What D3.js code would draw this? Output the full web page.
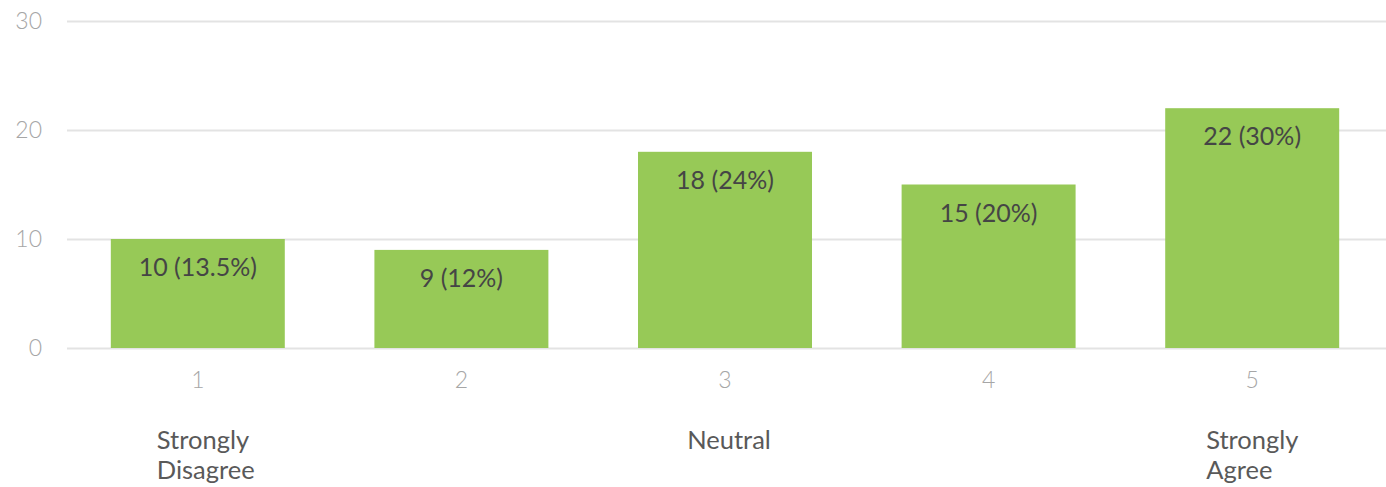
<!DOCTYPE html>
<html>
<head>
<meta charset="utf-8">
<script src="https://cdn.jsdelivr.net/npm/d3@7"></script>
<style>
  html, body { margin: 0; padding: 0; background: #ffffff; }
  svg { display: block; font-family: Lato, "Open Sans", sans-serif; }
</style>
</head>
<body>
<svg id="chart" width="1386" height="487"></svg>
<script>
// Survey responses on a 1–5 agreement scale
const categories = ["1", "2", "3", "4", "5"];
const counts = [10, 9, 18, 15, 22];
const valueLabels = ["10 (13.5%)", "9 (12%)", "18 (24%)", "15 (20%)", "22 (30%)"];
const yTicks = [0, 10, 20, 30];
// Scale descriptors shown beneath selected categories
const anchorLabels = [["Strongly", "Disagree"], [], ["Neutral"], [], ["Strongly", "Agree"]];

const svg = d3.select("#chart");
const W = 1386;

const x = d3.scaleBand()
  .domain(categories)
  .range([66, 1384])
  .paddingInner(0.34)
  .paddingOuter(0.17);

const y = d3.scaleLinear()
  .domain([0, 30])
  .range([348, 21]);

// Horizontal gridlines
svg.append("g")
  .selectAll("line")
  .data(yTicks)
  .join("line")
  .attr("x1", 67)
  .attr("x2", W)
  .attr("y1", d => Math.round(y(d)) + 0.5)
  .attr("y2", d => Math.round(y(d)) + 0.5)
  .attr("stroke", "#e3e3e3")
  .attr("stroke-width", 2);

// Y axis labels
const yAxis = d3.axisLeft(y).tickValues(yTicks).tickSize(0).tickPadding(0);
svg.append("g")
  .attr("transform", "translate(42,0)")
  .call(yAxis)
  .call(g => g.select(".domain").remove())
  .call(g => g.selectAll("text")
    .attr("fill", "#a6a6a6")
    .style("font-size", "23px")
    .style("font-weight", "300")
    .style("font-family", "Lato, sans-serif"));

// Bars
svg.append("g")
  .selectAll("rect")
  .data(counts)
  .join("rect")
  .attr("x", (d, i) => x(categories[i]))
  .attr("width", x.bandwidth())
  .attr("y", d => y(d))
  .attr("height", d => y(0) - y(d))
  .attr("fill", "#97c957");

// Value labels inside bars
svg.append("g")
  .selectAll("text")
  .data(counts)
  .join("text")
  .attr("x", (d, i) => x(categories[i]) + x.bandwidth() / 2)
  .attr("y", d => y(d) + 37)
  .attr("text-anchor", "middle")
  .attr("fill", "#454545")
  .style("font-size", "25px")
  .text((d, i) => valueLabels[i]);

// X axis category numbers
const xAxis = d3.axisBottom(x).tickSize(0).tickPadding(0);
svg.append("g")
  .attr("transform", "translate(0,372)")
  .call(xAxis)
  .call(g => g.select(".domain").remove())
  .call(g => g.selectAll("text")
    .attr("fill", "#a6a6a6")
    .style("font-size", "23px")
    .style("font-weight", "300")
    .style("font-family", "Lato, sans-serif"));

// Descriptor labels
const offsets = [-41, 0, 4, 0, -46];
const anchors = ["start", "middle", "middle", "middle", "start"];
const desc = svg.append("g");
anchorLabels.forEach((lines, i) => {
  const cx = x(categories[i]) + x.bandwidth() / 2 + offsets[i];
  const t = desc.append("text")
    .attr("x", cx)
    .attr("y", 449)
    .attr("text-anchor", anchors[i])
    .attr("fill", "#595959")
    .style("font-size", "25.5px");
  lines.forEach((line, j) => {
    t.append("tspan")
      .attr("x", cx)
      .attr("dy", j === 0 ? 0 : 30)
      .text(line);
  });
});
</script>
</body>
</html>
